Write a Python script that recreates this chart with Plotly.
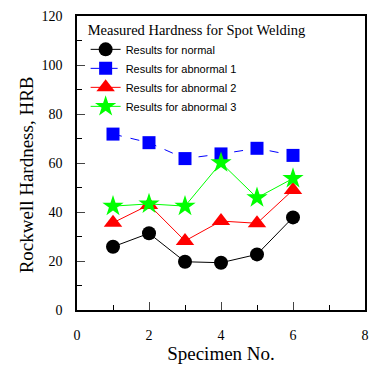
import plotly.graph_objects as go

specimen = [1, 2, 3, 4, 5, 6]
normal = [25.8, 31.3, 19.7, 19.3, 22.7, 37.8]
abnormal1 = [71.8, 68.3, 61.8, 63.7, 66.0, 63.1]
abnormal2 = [35.6, 42.9, 28.2, 36.3, 35.4, 49.0]
abnormal3 = [42.4, 43.3, 42.4, 60.1, 45.8, 53.7]

series = [
    ("Results for normal", normal, "black", "circle", "solid", 14),
    ("Results for abnormal 1", abnormal1, "#0000ff", "square", "dash", 13),
    ("Results for abnormal 2", abnormal2, "#ff0000", "triangle-up", "solid", 16),
    ("Results for abnormal 3", abnormal3, "#00ff00", "star", "solid", 16),
]

fig = go.Figure()
for name, vals, col, sym, dash, size in series:
    fig.add_trace(go.Scatter(
        x=specimen, y=vals, name=name, mode="lines+markers",
        line=dict(color=col, width=1, dash=dash),
        marker=dict(symbol=sym, size=size, color=col, line=dict(width=0)),
    ))

fig.add_annotation(
    text="Rockwell Hardness, HRB", textangle=-90,
    xref="paper", yref="paper", x=-0.175, y=0.46,
    xanchor="center", yanchor="middle", showarrow=False,
    font=dict(size=19),
)

fig.update_layout(
    width=373, height=365,
    margin=dict(l=77, r=4, t=16, b=55),
    plot_bgcolor="white", paper_bgcolor="white",
    font=dict(family="Liberation Serif, Times New Roman, serif", size=14, color="black"),
    showlegend=True,
    legend=dict(
        x=0.03, y=1.0, xanchor="left", yanchor="top",
        bgcolor="rgba(0,0,0,0)",
        font=dict(family="Liberation Sans, Arial, sans-serif", size=11),
        title=dict(text="Measured Hardness for Spot Welding",
                   font=dict(family="Liberation Serif, Times New Roman, serif", size=14.5),
                   side="top"),
        tracegroupgap=0, itemwidth=30,
    ),
    xaxis=dict(
        range=[0, 8], tickvals=[0, 2, 4, 6, 8], ticks="inside", ticklen=8,
        showline=True, linecolor="black", linewidth=1.5, mirror=True,
        showgrid=False, zeroline=False, ticklabelstandoff=11,
        minor=dict(tickvals=[1, 3, 5, 7], ticks="inside", ticklen=5, tickcolor="black"),
        title=dict(text="Specimen No.", font=dict(size=19), standoff=0),
        tickfont=dict(size=14),
    ),
    yaxis=dict(
        range=[0, 120], tickvals=[0, 20, 40, 60, 80, 100, 120], ticks="inside", ticklen=8,
        showline=True, linecolor="black", linewidth=1.5, mirror=True,
        showgrid=False, zeroline=False, ticklabelstandoff=10,
        minor=dict(tickvals=[10, 30, 50, 70, 90, 110], ticks="inside", ticklen=5, tickcolor="black"),
        tickfont=dict(size=14),
    ),
)

fig.write_html("out.html")
